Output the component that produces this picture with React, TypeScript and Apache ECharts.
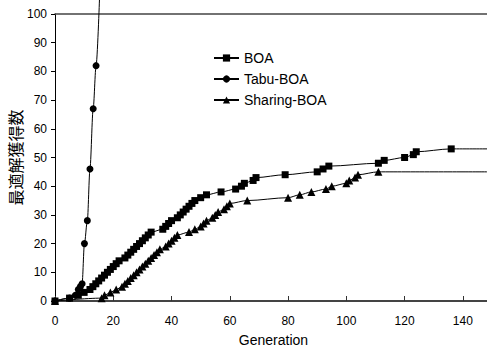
import React, { useEffect, useRef } from "react";
import * as echarts from "echarts";

const seriesNames = ["BOA", "Tabu-BOA", "Sharing-BOA"];
const xTicks = [0, 20, 40, 60, 80, 100, 120, 140];
const yTicks = [0, 10, 20, 30, 40, 50, 60, 70, 80, 90, 100];

// [generation, number of runs that found the optimum]
const boaData: number[][] = [
  [0, 0], [5, 1], [8, 2], [10, 3], [12, 4], [13, 5], [14, 6], [15, 7], [16, 8], [17, 9],
  [18, 10], [19, 11], [20, 12], [21, 13], [22, 14], [24, 15], [25, 16], [26, 17], [27, 18],
  [28, 19], [29, 20], [30, 21], [31, 22], [32, 23], [33, 24], [37, 25], [38, 26], [39, 27],
  [40, 28], [42, 29], [43, 30], [44, 31], [45, 32], [46, 33], [47, 34], [48, 35], [50, 36],
  [52, 37], [57, 38], [62, 39], [64, 40], [65, 41], [68, 42], [69, 43], [79, 44], [90, 45],
  [92, 46], [94, 47], [111, 48], [113, 49], [120, 50], [123, 51], [124, 52], [136, 53],
];
const boaTail = [150, 53];

const tabuData: number[][] = [
  [0, 0], [5, 1], [7, 2], [8, 4], [8.7, 5], [9.3, 6], [10.1, 20], [11.1, 28], [12, 46],
  [13.1, 67], [14.1, 82],
];
const tabuTail = [15.3, 106];

const sharingData: number[][] = [
  [0, 0], [16, 1], [17, 2], [19, 3], [21, 4], [23, 5], [24, 6], [25, 7], [26, 8], [27, 9],
  [28, 10], [29, 11], [30, 12], [31, 13], [32, 14], [33, 15], [34, 16], [35, 17], [36, 18],
  [38, 19], [39, 20], [40, 21], [41, 22], [42, 23], [46, 24], [48, 25], [50, 26], [51, 27],
  [52, 28], [54, 29], [55, 30], [56, 31], [58, 32], [59, 33], [60, 34], [66, 35], [80, 36],
  [84, 37], [88, 38], [93, 39], [95, 40], [100, 41], [101, 42], [103, 43], [104, 44], [111, 45],
];
const sharingTail = [150, 45];

const FONT = "'Liberation Sans', 'Noto Sans CJK JP', sans-serif";

export default function App() {
  const ref = useRef<HTMLDivElement>(null);
  useEffect(() => {
    if (!ref.current) return;
    const chart = echarts.init(ref.current, undefined, { renderer: "svg" });
    const mk = (d: number[][], tail: number[]) => [
      ...d,
      { value: tail, symbol: "none" },
    ];
    const baseSeries = (name: string, data: any[], symbol: string) => ({
      name,
      type: "line",
      data,
      symbol,
      symbolSize: symbol === "triangle" ? 8 : 7,
      smooth: 0.3,
      smoothMonotone: "x",
      clip: false,
      lineStyle: { color: "#000", width: 1 },
      itemStyle: { color: "#000" },
      emphasis: { disabled: true },
    });
    chart.setOption({
      animation: false,
      backgroundColor: "#fff",
      textStyle: { fontFamily: FONT },
      grid: { left: 55, top: 14, bottom: 51, right: -5, outerBoundsMode: "none", containLabel: false },
      legend: {
        orient: "vertical",
        left: 213,
        top: 51,
        padding: 0,
        itemWidth: 25,
        itemHeight: 9,
        itemGap: 7,
        textStyle: { fontSize: 14, color: "#000", fontFamily: FONT },
        data: seriesNames,
      },
      xAxis: [
        {
          type: "value",
          min: 0,
          max: 150,
          interval: 20,
          name: "Generation",
          nameLocation: "middle",
          nameGap: 32,
          nameMoveOverlap: false,
          nameTextStyle: { fontSize: 14, color: "#000" },
          axisLine: { show: true, lineStyle: { color: "#444", width: 2 } },
          axisTick: { show: true, inside: true, length: 5, lineStyle: { color: "#333" } },
          axisLabel: {
            fontSize: 12,
            color: "#000",
            margin: 14,
            formatter: (v: number) => (xTicks.includes(v) ? String(v) : ""),
          },
          splitLine: { show: false },
        },
        {
          type: "value",
          position: "top",
          min: 0,
          max: 150,
          interval: 20,
          axisLine: { show: true, onZero: false, lineStyle: { color: "#444", width: 1.5 } },
          axisTick: { show: false },
          axisLabel: { show: false },
          splitLine: { show: false },
        },
      ],
      yAxis: {
        type: "value",
        min: 0,
        max: 100,
        interval: 10,
        name: "最適解獲得数",
        nameLocation: "middle",
        nameRotate: 90,
        nameGap: 32,
        nameMoveOverlap: false,
        nameTextStyle: { fontSize: 16, color: "#000000", fontFamily: "'Noto Sans CJK JP', sans-serif" },
        axisLine: { show: true, lineStyle: { color: "#000", width: 1 } },
        axisTick: { show: true, inside: false, length: 4, lineStyle: { color: "#000" } },
        axisLabel: {
          fontSize: 12,
          color: "#000",
          margin: 8,
          formatter: (v: number) => (yTicks.includes(v) ? String(v) : ""),
        },
        splitLine: { show: false },
      },
      series: [
        baseSeries(seriesNames[0], mk(boaData, boaTail), "rect"),
        baseSeries(seriesNames[1], mk(tabuData, tabuTail), "circle"),
        baseSeries(seriesNames[2], mk(sharingData, sharingTail), "triangle"),
      ],
    });
    return () => chart.dispose();
  }, []);
  return (
    <div
      ref={ref}
      style={{ position: "fixed", left: 0, top: 0, width: 487, height: 352 }}
    />
  );
}
